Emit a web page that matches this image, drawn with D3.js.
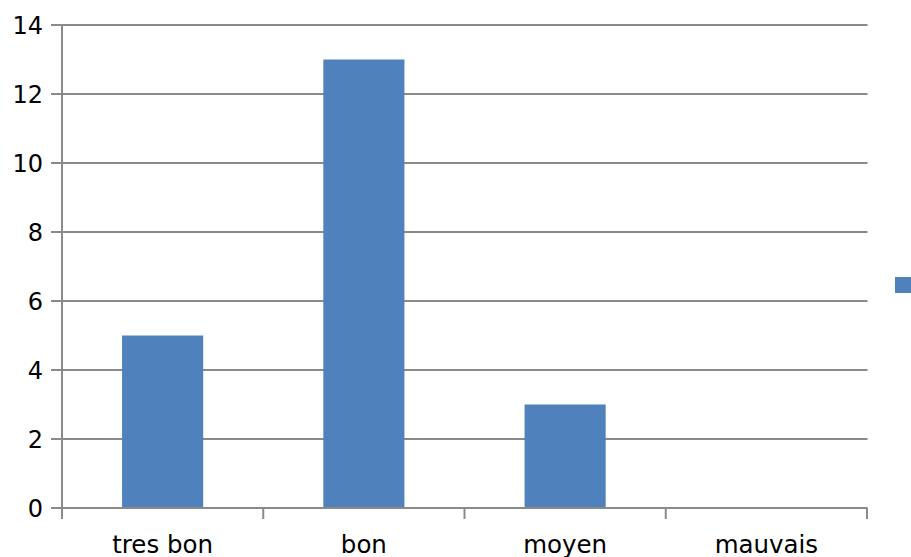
<!DOCTYPE html>
<html><head><meta charset="utf-8">
<script src="https://cdn.jsdelivr.net/npm/d3@7"></script>
<style>html,body{margin:0;padding:0;background:#fff;overflow:hidden}</style>
</head><body>
<svg id="c" width="911" height="557"></svg>
<script>
const categories = ["tres bon", "bon", "moyen", "mauvais"];
const values = [5, 13, 3, 0];
const yTicks = [0, 2, 4, 6, 8, 10, 12, 14];

const svg = d3.select("#c");
const pLeft = 62, pRight = 867, pTop = 25, pBottom = 508;
const font = "DejaVu Sans";
const grid = "#8a8a8a";

const x = d3.scaleBand().domain(categories).range([pLeft, pRight]).paddingInner(0).paddingOuter(0);
const y = d3.scaleLinear().domain([0, 14]).range([pBottom, pTop]);

// gridlines
svg.append("g").selectAll("line").data(yTicks.filter(t => t !== 0)).join("line")
  .attr("x1", pLeft - 11).attr("x2", pRight + 0.5)
  .attr("y1", d => y(d)).attr("y2", d => y(d))
  .attr("stroke", grid).attr("stroke-width", 2);

// bars
const bw = x.bandwidth() * 0.403;
svg.append("g").selectAll("rect").data(values).join("rect")
  .attr("x", (d, i) => x(categories[i]) + x.bandwidth() / 2 - bw / 2)
  .attr("width", bw)
  .attr("y", d => y(d))
  .attr("height", d => y(0) - y(d))
  .attr("fill", "#4F81BD");

// y axis line
svg.append("line").attr("x1", pLeft).attr("x2", pLeft).attr("y1", pTop).attr("y2", pBottom)
  .attr("stroke", grid).attr("stroke-width", 2);
// x axis line
svg.append("line").attr("x1", pLeft - 11).attr("x2", pRight + 0.5).attr("y1", pBottom).attr("y2", pBottom)
  .attr("stroke", grid).attr("stroke-width", 2);

// x ticks at band edges
const edges = categories.map(c => x(c)).concat([pRight]);
svg.append("g").selectAll("line").data(edges).join("line")
  .attr("x1", d => d).attr("x2", d => d).attr("y1", pBottom).attr("y2", pBottom + 11)
  .attr("stroke", grid).attr("stroke-width", 2);

// y labels
svg.append("g").selectAll("text").data(yTicks).join("text")
  .attr("x", 43).attr("y", d => y(d)).attr("dy", "0.36em")
  .attr("text-anchor", "end").attr("font-family", font).attr("font-size", 24)
  .attr("fill", "#000").text(d => d);

// x labels
svg.append("g").selectAll("text").data(categories).join("text")
  .attr("x", d => x(d) + x.bandwidth() / 2).attr("y", 553)
  .attr("text-anchor", "middle").attr("font-family", font).attr("font-size", 24.5)
  .attr("fill", "#000").text(d => d);

// legend marker
svg.append("rect").attr("x", 895).attr("y", 277).attr("width", 16).attr("height", 16).attr("fill", "#4F81BD");
</script>
</body></html>
